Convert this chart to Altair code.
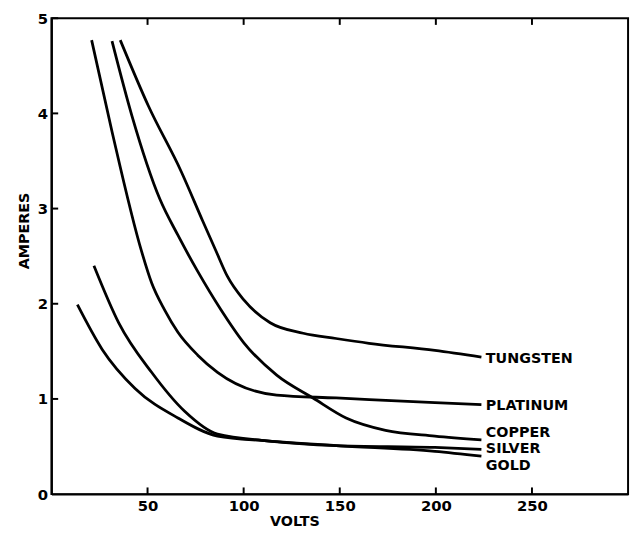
import altair as alt
import pandas as pd

# Curve data (volts, amperes)
tungsten_v = [35.8, 50.4, 67.5, 78.7, 85.5, 91.5, 100.1, 113.8, 131.0, 148.1, 165.2, 199.5, 223.7]
tungsten_a = [4.77, 4.08, 3.39, 2.87, 2.56, 2.29, 2.04, 1.80, 1.69, 1.635, 1.585, 1.51, 1.44]

platinum_v = [20.9, 31.5, 46.9, 52.1, 59.0, 65.8, 76.1, 86.4, 117.2, 148.1, 199.5, 223.7]
platinum_a = [4.77, 3.81, 2.55, 2.22, 1.93, 1.70, 1.46, 1.28, 1.04, 1.01, 0.96, 0.94]

copper_v = [31.5, 41.8, 56.4, 65.8, 76.1, 88.1, 100.1, 117.2, 136.1, 153.3, 173.8, 199.5, 223.7]
copper_a = [4.76, 3.98, 3.10, 2.72, 2.34, 1.94, 1.59, 1.25, 1.01, 0.80, 0.67, 0.61, 0.57]

silver_v = [22.1, 35.0, 52.1, 69.3, 86.4, 112.1, 148.1, 199.5, 223.7]
silver_a = [2.40, 1.80, 1.28, 0.87, 0.63, 0.56, 0.51, 0.49, 0.47]

gold_v = [13.5, 26.4, 43.5, 65.8, 86.4, 112.1, 148.1, 199.5, 223.7]
gold_a = [1.99, 1.52, 1.11, 0.80, 0.61, 0.56, 0.51, 0.45, 0.40]

label_names = ["TUNGSTEN", "PLATINUM", "COPPER", "SILVER", "GOLD"]
label_v = [226, 226, 226, 226, 226]
label_a = [1.42, 0.93, 0.64, 0.47, 0.30]

x_ticks = [50, 100, 150, 200, 250]
y_ticks = [0, 1, 2, 3, 4, 5]

rows = []
for name, vs, amps in [("TUNGSTEN", tungsten_v, tungsten_a),
                       ("PLATINUM", platinum_v, platinum_a),
                       ("COPPER", copper_v, copper_a),
                       ("SILVER", silver_v, silver_a),
                       ("GOLD", gold_v, gold_a)]:
    for v, a in zip(vs, amps):
        rows.append({"metal": name, "volts": v, "amps": a})
curves = pd.DataFrame(rows)
labels = pd.DataFrame({"metal": label_names, "volts": label_v, "amps": label_a})

FONT = "DejaVu Sans"
xscale = alt.Scale(domain=[0, 300], nice=False, zero=False)
yscale = alt.Scale(domain=[0, 5], nice=False)

lines = alt.Chart(curves).mark_line(
    color="black", strokeWidth=2.8, interpolate="monotone"
).encode(
    x=alt.X("volts:Q", scale=xscale,
            axis=alt.Axis(title="VOLTS", values=x_ticks, ticks=False, grid=False, format="d",
                          domainColor="black", domainWidth=2,
                          labelFont=FONT, labelFontSize=15, labelFontWeight="bold",
                          labelColor="black", labelPadding=5,
                          titleFont=FONT, titleFontSize=14.5, titleFontWeight="bold",
                          titleColor="black", titleX=246, titleY=32,
                          titleBaseline="alphabetic")),
    y=alt.Y("amps:Q", scale=yscale,
            axis=alt.Axis(title="AMPERES", values=y_ticks, ticks=False, grid=False, format="d",
                          domainColor="black", domainWidth=2,
                          labelFont=FONT, labelFontSize=15, labelFontWeight="bold",
                          labelColor="black", labelPadding=4,
                          titleFont=FONT, titleFontSize=14.5, titleFontWeight="bold",
                          titleColor="black", titleX=-20, titleY=215)),
    detail="metal:N",
)

texts = alt.Chart(labels).mark_text(
    align="left", baseline="middle", font=FONT, fontSize=14.5, fontWeight="bold", color="black"
).encode(x=alt.X("volts:Q", scale=xscale), y=alt.Y("amps:Q", scale=yscale), text="metal:N")

xt = pd.DataFrame({"v": x_ticks, "y0": [0] * 5, "y1": [0.07] * 5, "t0": [5] * 5, "t1": [4.93] * 5})
bottom_ticks = alt.Chart(xt).mark_rule(color="black", strokeWidth=2).encode(
    x=alt.X("v:Q", scale=xscale), y=alt.Y("y0:Q", scale=yscale), y2="y1:Q")
top_ticks = alt.Chart(xt).mark_rule(color="black", strokeWidth=2).encode(
    x=alt.X("v:Q", scale=xscale), y=alt.Y("t0:Q", scale=yscale), y2="t1:Q")

yt = pd.DataFrame({"a": y_ticks[1:], "x0": [0] * 5, "x1": [3.5] * 5})
left_ticks = alt.Chart(yt).mark_rule(color="black", strokeWidth=2).encode(
    y=alt.Y("a:Q", scale=yscale), x=alt.X("x0:Q", scale=xscale), x2="x1:Q")

chart = alt.layer(lines, texts, bottom_ticks, top_ticks, left_ticks).properties(
    width=584, height=482,
    autosize=alt.AutoSizeParams(type="none"),
    padding={"left": 44, "top": 7, "right": 5, "bottom": 33},
).configure(background="white", view=alt.ViewConfig(stroke="black", strokeWidth=2))

chart.save("out.html", embed_options={"renderer": "svg", "actions": False})
